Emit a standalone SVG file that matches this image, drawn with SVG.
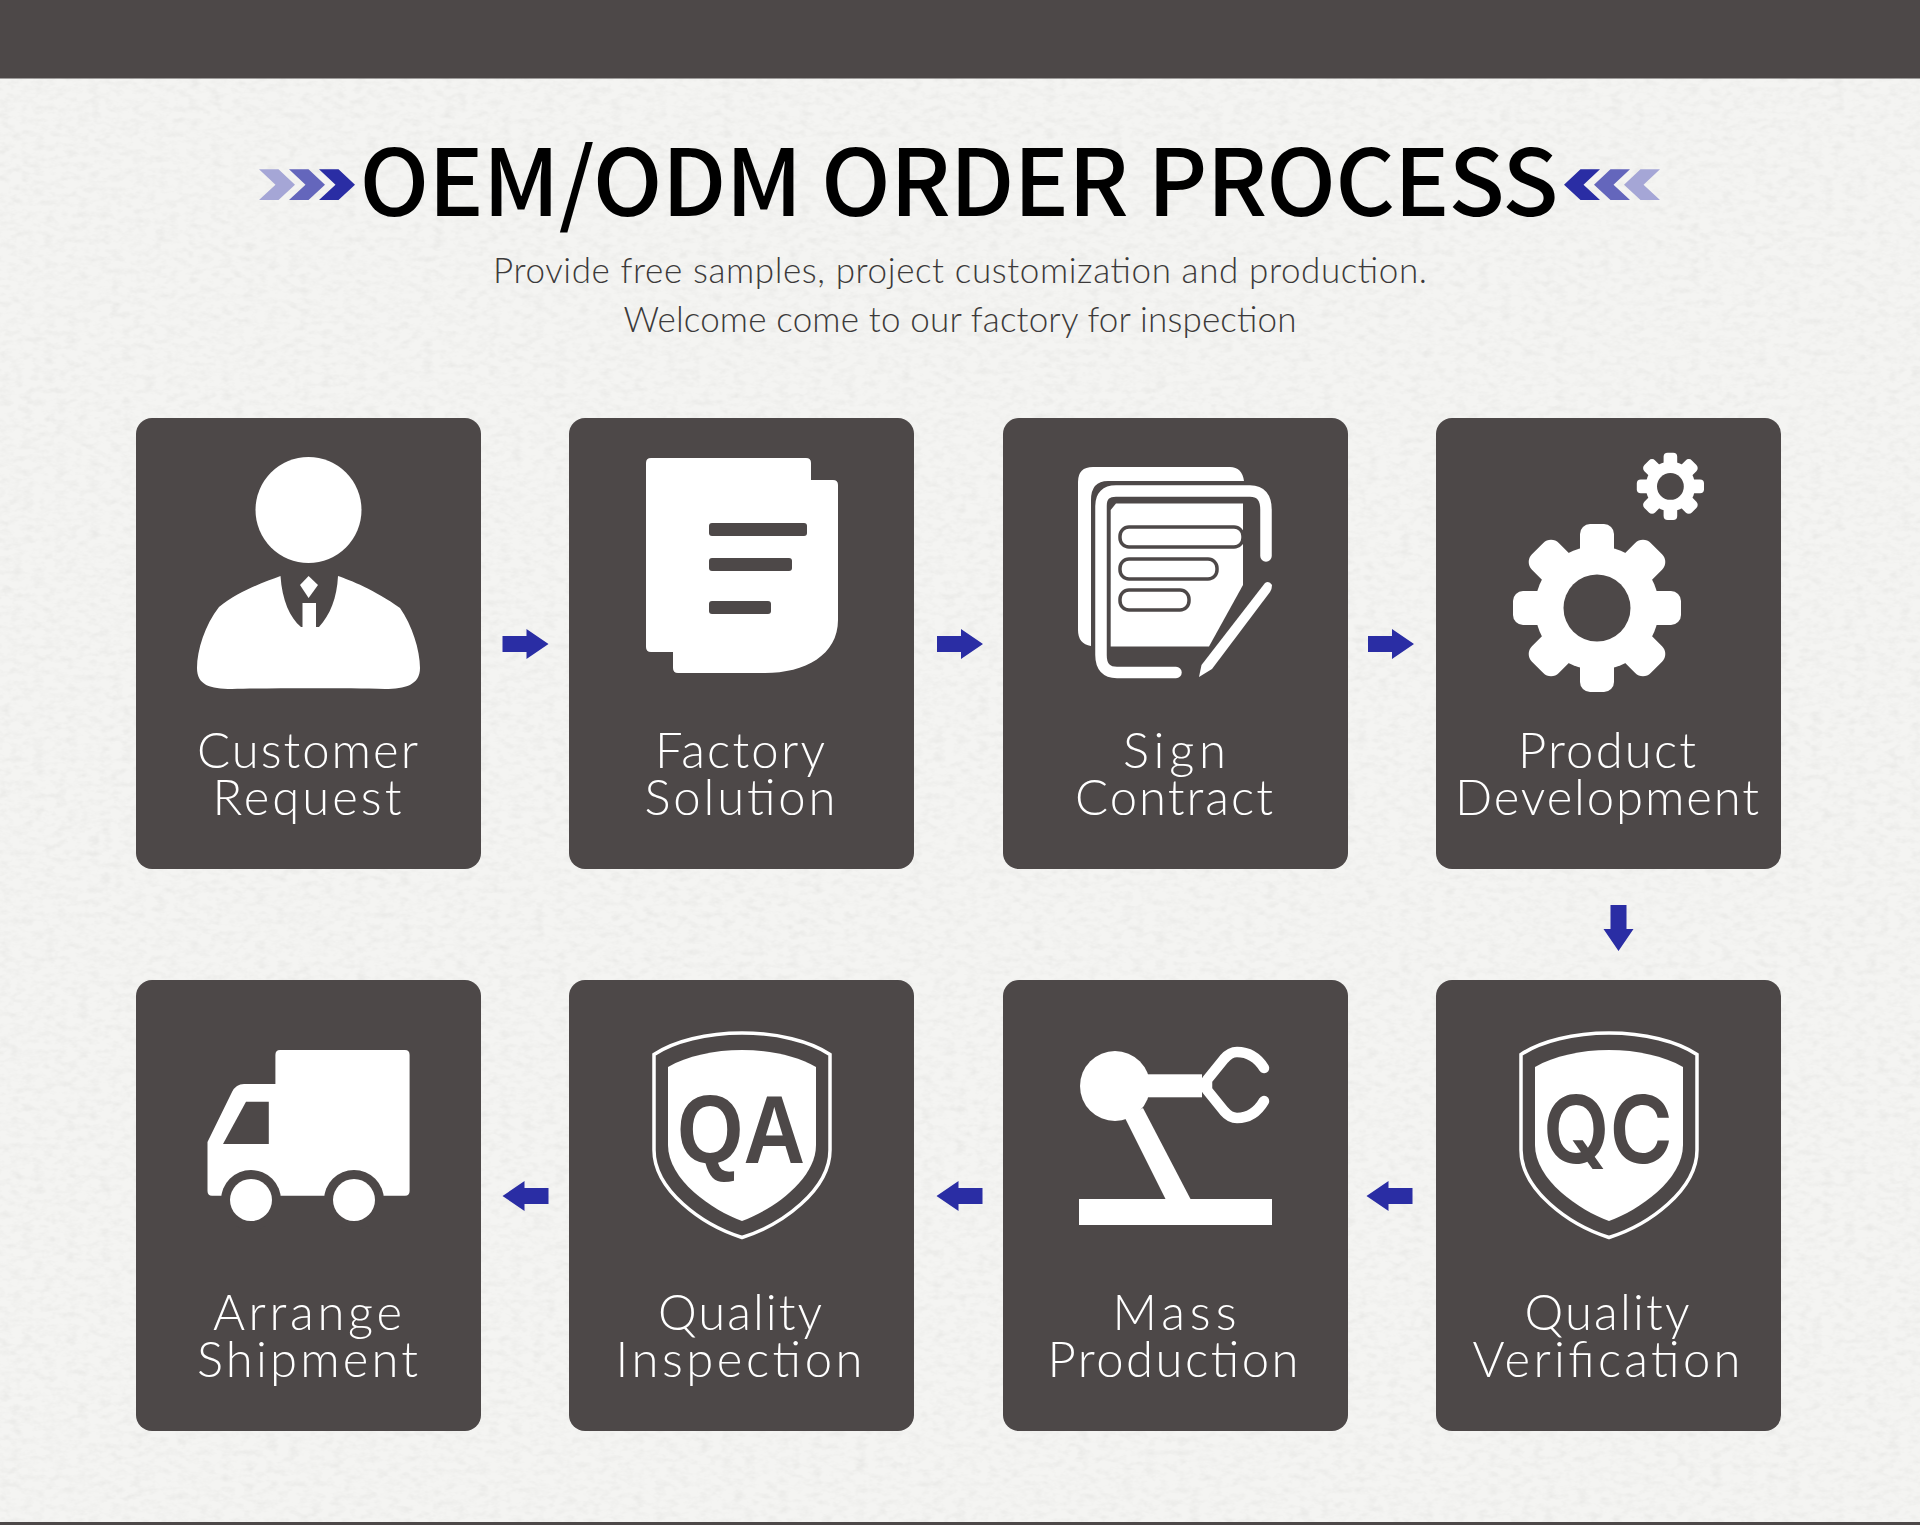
<svg xmlns="http://www.w3.org/2000/svg" xmlns:xlink="http://www.w3.org/1999/xlink" width="1920" height="1525" viewBox="0 0 1920 1525">
<style>
.card{fill:#4d4848}
.w{fill:#fff}
.d{fill:#4d4848}
.lab{font-family:"Lato","Liberation Sans",sans-serif;font-weight:300;font-size:49px;fill:#fff;text-anchor:middle}
.sub{font-family:"Lato","Liberation Sans",sans-serif;font-weight:300;font-size:35px;fill:#3c3a3a;text-anchor:middle}
.title{font-family:"Noto Sans CJK SC","Noto Sans",sans-serif;font-weight:500;font-size:92.500px;fill:#000;text-anchor:middle}
.arrow{fill:#2a2da4}
.st{fill:none;stroke:#fff;stroke-linecap:round;stroke-linejoin:round}
</style>
<defs>
<filter id="paper" x="0" y="0" width="100%" height="100%">
<feTurbulence type="fractalNoise" baseFrequency="0.09 0.16" numOctaves="3" seed="7" result="n"/>
<feColorMatrix in="n" type="matrix" values="0 0 0 0 0.6  0 0 0 0 0.6  0 0 0 0 0.58  0.35 0.35 0 0 -0.31"/>
</filter>
<g id="gear">
<circle r="62" class="w"/>
<g id="teeth">
<rect x="-17" y="-84" width="34" height="40" rx="10" class="w"/>
<rect x="-17" y="44" width="34" height="40" rx="10" class="w"/>
<rect x="-84" y="-17" width="40" height="34" rx="10" class="w"/>
<rect x="44" y="-17" width="40" height="34" rx="10" class="w"/>
<rect x="-19" y="-84" width="38" height="40" rx="11" class="w" transform="rotate(45)"/>
<rect x="-19" y="44" width="38" height="40" rx="11" class="w" transform="rotate(45)"/>
<rect x="-84" y="-19" width="40" height="38" rx="11" class="w" transform="rotate(45)"/>
<rect x="44" y="-19" width="40" height="38" rx="11" class="w" transform="rotate(45)"/>
</g>
<circle r="33.500" class="d"/>
</g>
<g id="shield">
<path d="M0 1033C35 1033 68 1041 88 1054.500L88 1150C88 1190 40 1225 0 1237.500C-40 1225-88 1190-88 1150L-88 1054.500C-68 1041-35 1033 0 1033Z" fill="none" stroke="#fff" stroke-width="3.500"/>
<path d="M0 1050C28 1050 55 1056 74 1067L74 1145C74 1180 30 1210 0 1221C-30 1210-74 1180-74 1145L-74 1067C-55 1056-28 1050 0 1050Z" class="w"/>
</g>
<polygon id="chev" points="0,169.300 19.500,169.300 36,184.700 19.500,200 0,200 16.500,184.700"/>
<polygon id="arr" points="-23,-8 1,-8 1,-15 23,0 1,15 1,8 -23,8"/>
</defs>

<rect id="background" width="1920" height="1525" fill="#f4f4f2"/>
<rect id="texture" width="1920" height="1525" filter="url(#paper)"/>
<rect id="top-band" width="1920" height="78.500" fill="#4d4848"/>
<rect id="bottom-line" y="1522" width="1920" height="3" fill="#4d4848"/>

<g id="header">
<use href="#chev" x="259" fill="#a5a6d6"/>
<use href="#chev" x="289" fill="#6466bc"/>
<use href="#chev" x="319" fill="#2a2da4"/>
<g transform="translate(1920 0) scale(-1 1)">
<use href="#chev" x="260" fill="#a5a6d6"/>
<use href="#chev" x="290" fill="#6466bc"/>
<use href="#chev" x="320" fill="#2a2da4"/>
</g>
<text class="title" x="959" y="216" textLength="1199" lengthAdjust="spacing">OEM/ODM ORDER PROCESS</text>
<text class="sub" x="960" y="283" textLength="934" lengthAdjust="spacing">Provide free samples, project customization and production.</text>
<text class="sub" x="960" y="332" textLength="673" lengthAdjust="spacing">Welcome come to our factory for inspection</text>
</g>

<g id="connectors">
<use href="#arr" class="arrow" transform="translate(525.500 644)"/>
<use href="#arr" class="arrow" transform="translate(960 644)"/>
<use href="#arr" class="arrow" transform="translate(1391 644)"/>
<use href="#arr" class="arrow" transform="translate(1618.500 928) rotate(90)"/>
<use href="#arr" class="arrow" transform="translate(525.500 1196) rotate(180)"/>
<use href="#arr" class="arrow" transform="translate(959.500 1196) rotate(180)"/>
<use href="#arr" class="arrow" transform="translate(1389.500 1196) rotate(180)"/>
</g>

<g id="node-customer-request">
<rect class="card" x="136" y="418" width="345" height="451" rx="16"/>
<circle class="w" cx="308.500" cy="510" r="53"/>
<path class="w" d="M280.500 576C282 600 290 618 301 627L302.500 627L302.500 603L316 603L316 627L319 627C330 615 337 598 338 576C350 580 375 590 400 608C412 625 420 650 420 668C420 685 405 689 385 689C350 688 270 688 232 689C210 689 197 685 197 668C197 650 205 625 219 607C240 590 265 582 280.500 576Z"/>
<polygon class="w" points="308.600,576 318,585 308.600,598 300,585"/>
<text class="lab" x="307.500" y="768" textLength="221">Customer</text>
<text class="lab" x="307" y="815" textLength="189">Request</text>
</g>

<g id="node-factory-solution">
<rect class="card" x="569" y="418" width="345" height="451" rx="16"/>
<path class="w" d="M651 458H806Q811 458 811 463V480H833Q838 480 838 485V620C838 655 805 673 765 673H678Q673 673 673 668V652H651Q646 652 646 647V463Q646 458 651 458Z"/>
<rect class="d" x="709" y="523" width="98" height="13" rx="3"/>
<rect class="d" x="709" y="558" width="83" height="13" rx="3"/>
<rect class="d" x="709" y="601" width="62" height="13" rx="3"/>
<text class="lab" x="740" y="768" textLength="170">Factory</text>
<text class="lab" x="740" y="815" textLength="191">Solution</text>
</g>

<g id="node-sign-contract">
<rect class="card" x="1003" y="418" width="345" height="451" rx="16"/>
<path class="w" d="M1078 482Q1078 467 1093 467H1230Q1242 467 1244 481H1108Q1091 481 1091 500V646Q1078 644 1078 630Z"/>
<path class="st" stroke-width="11.500" d="M1176 672.500H1117Q1101 672.500 1101 655V506Q1101 491 1116 491H1250Q1266 491 1266 510V556"/>
<path class="w" d="M1116 503.600H1243V585L1209 646.400H1110.700V510Z"/>
<g fill="#fff" stroke="#4d4848" stroke-width="3.500">
<rect x="1120" y="527" width="123" height="20" rx="9"/>
<rect x="1120" y="559" width="97" height="20" rx="9"/>
<rect x="1120" y="590" width="69" height="20" rx="9"/>
</g>
<path class="w" d="M1199 677L1201.500 665L1265 583Q1269 580 1272 585Q1272 589 1270 592L1212 669Z"/>
<text class="lab" x="1174.500" y="768" textLength="103">Sign</text>
<text class="lab" x="1174" y="815" textLength="198">Contract</text>
</g>

<g id="node-product-development">
<rect class="card" x="1436" y="418" width="345" height="451" rx="16"/>
<use href="#gear" transform="translate(1597 608)"/>
<use href="#gear" transform="translate(1670.400 486.400) scale(.4)"/>
<text class="lab" x="1607" y="768" textLength="178">Product</text>
<text class="lab" x="1607" y="815" textLength="304">Development</text>
</g>

<g id="node-arrange-shipment">
<rect class="card" x="136" y="980" width="345" height="451" rx="16"/>
<path class="w" d="M280 1050H405Q409.600 1050 409.600 1055V1191Q409.600 1195.700 405 1195.700H212Q207.500 1195.700 207.500 1191V1142L232 1092Q236 1084 244 1084H275.400V1055Q275.400 1050 280 1050Z"/>
<polygon class="d" points="246,1101.700 268.800,1101.700 268.800,1144 223,1144"/>
<circle class="d" cx="251" cy="1200" r="30"/>
<circle class="d" cx="354" cy="1200" r="30"/>
<rect class="d" x="215" y="1196" width="170" height="30"/>
<circle class="w" cx="251" cy="1200" r="21"/>
<circle class="w" cx="354" cy="1200" r="21"/>
<text class="lab" x="307.500" y="1330" textLength="189">Arrange</text>
<text class="lab" x="307.500" y="1377" textLength="221">Shipment</text>
</g>

<g id="node-quality-inspection">
<rect class="card" x="569" y="980" width="345" height="451" rx="16"/>
<use href="#shield" x="742"/>
<text x="741" y="1163" font-family="Liberation Sans" font-weight="700" font-size="96" fill="#4d4848" text-anchor="middle" textLength="128" lengthAdjust="spacingAndGlyphs">QA</text>
<text class="lab" x="740" y="1330" textLength="164">Quality</text>
<text class="lab" x="739" y="1377" textLength="247">Inspection</text>
</g>

<g id="node-mass-production">
<rect class="card" x="1003" y="980" width="345" height="451" rx="16"/>
<circle class="w" cx="1115" cy="1086" r="35"/>
<rect class="w" x="1130" y="1074.300" width="72" height="23"/>
<polygon class="w" points="1125,1118 1143,1108 1191,1200 1166,1200"/>
<path class="st" stroke-width="10.500" d="M1264 1068Q1254 1052 1237 1052Q1230 1052 1224 1059L1207 1080V1090L1224 1111Q1230 1118 1237 1118Q1254 1118 1264 1101"/>
<rect class="w" x="1079" y="1199" width="193" height="26"/>
<text class="lab" x="1174.500" y="1330" textLength="124">Mass</text>
<text class="lab" x="1173" y="1377" textLength="251">Production</text>
</g>

<g id="node-quality-verification">
<rect class="card" x="1436" y="980" width="345" height="451" rx="16"/>
<use href="#shield" x="1609"/>
<text x="1608" y="1163" font-family="Inter" font-weight="600" font-size="94" fill="#4d4848" text-anchor="middle" textLength="130" lengthAdjust="spacingAndGlyphs">QC</text>
<text class="lab" x="1607" y="1330" textLength="165">Quality</text>
<text class="lab" x="1606.500" y="1377" textLength="268">Verification</text>
</g>
</svg>
